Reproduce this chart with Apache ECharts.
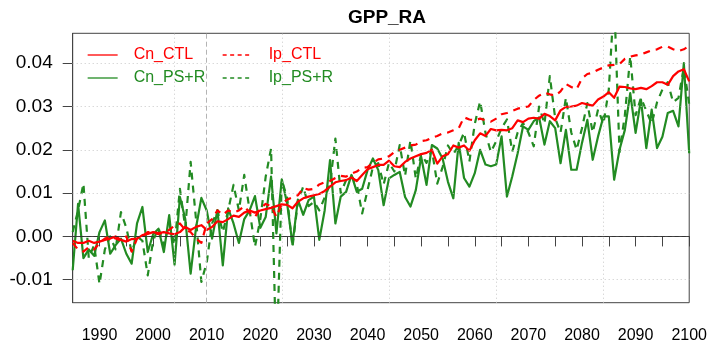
<!DOCTYPE html>
<html>
<head>
<meta charset="utf-8">
<script src="https://cdn.jsdelivr.net/npm/echarts@6/dist/echarts.min.js"></script>
<style>
  html, body { margin: 0; padding: 0; background: #ffffff; }
  #chart { width: 710px; height: 344px; }
</style>
</head>
<body>
<div id="chart"></div>
<script>
// Annual anomalies, 1985-2100
const firstYear = 1985;

const cnCTL = [
  -0.001, -0.0015, -0.0015, -0.001, -0.0015, -0.0012, -0.0008, -0.0005, 0.0, -0.0008,
  -0.0012, -0.0006, -0.0005, 0.0003, 0.0006, 0.001, 0.0008, 0.001, 0.0007, 0.0005,
  0.001, 0.0022, 0.0015, 0.0022, 0.0026, 0.0015, 0.0022, 0.0035, 0.0033, 0.004,
  0.0048, 0.0045, 0.0055, 0.006, 0.0055, 0.006, 0.0063, 0.0066, 0.007, 0.0074,
  0.0073, 0.0065, 0.008, 0.0088, 0.0092, 0.0095, 0.0098, 0.0105, 0.0115, 0.0125,
  0.0128, 0.013, 0.0136, 0.0128, 0.0142, 0.0155, 0.016, 0.0165, 0.0165, 0.0175,
  0.0162, 0.016, 0.0172, 0.018, 0.0185, 0.019, 0.0193, 0.02, 0.0168, 0.0185,
  0.019, 0.021, 0.0205, 0.021, 0.0198, 0.0222, 0.0238, 0.0232, 0.0248, 0.0245,
  0.0246, 0.0245, 0.025, 0.0268, 0.0264, 0.0272, 0.0274, 0.0272, 0.0283, 0.0278,
  0.0268, 0.0291, 0.0299, 0.03, 0.0302, 0.0308, 0.0305, 0.0302, 0.0316, 0.0323,
  0.0333, 0.032, 0.0346, 0.0345, 0.0342, 0.034, 0.0343, 0.034, 0.0347, 0.0356,
  0.0356, 0.035, 0.037, 0.0381, 0.0386, 0.0358
];

const ipCTL = [
  -0.0015, -0.003, -0.0035, -0.0025, -0.003, -0.0015, -0.0005, 0.0, -0.0005, -0.001,
  0.0, -0.0035, -0.0005, 0.0, 0.001, 0.001, 0.0005, 0.001, 0.0015, 0.0025,
  0.003, 0.0015, 0.001, -0.0005, -0.0015, 0.003, 0.004, 0.006, 0.005, 0.006,
  0.0055, 0.006, 0.007, 0.0055, 0.0045, 0.0065, 0.0075, 0.007, 0.0045, 0.0075,
  0.0085, 0.009, 0.0095, 0.0112, 0.0108, 0.011, 0.012, 0.0125, 0.0128, 0.0135,
  0.014, 0.0138, 0.0145, 0.015, 0.0158, 0.016, 0.017, 0.0178, 0.018, 0.0185,
  0.0195, 0.02, 0.0205, 0.021, 0.0212, 0.022, 0.0222, 0.0228, 0.0232, 0.0238,
  0.024, 0.0245, 0.025, 0.0275, 0.027, 0.0268, 0.0272, 0.0268, 0.0265, 0.0272,
  0.0282, 0.0285, 0.029, 0.0295, 0.0298, 0.03, 0.0315, 0.0325, 0.0332, 0.0328,
  0.0325, 0.0335, 0.0352, 0.0345, 0.034, 0.0365, 0.0375, 0.0378, 0.0385, 0.039,
  0.0395, 0.0396, 0.0398, 0.041, 0.0415, 0.0418, 0.042, 0.0425, 0.043, 0.0432,
  0.0438, 0.0438, 0.0432, 0.0428, 0.0432, 0.044
];

const cnPSR = [
  -0.0078, 0.0075, -0.005, -0.003, -0.0045, 0.001, 0.0037, -0.004, -0.002, -0.0005,
  -0.004, -0.0063, 0.003, 0.0068, -0.0036, 0.0005, 0.0018, -0.0036, 0.0049, -0.0065,
  0.0091, 0.004, -0.0086, 0.002, 0.0089, 0.006, -0.0005, 0.0061, -0.0067, 0.0065,
  0.003, -0.0015, 0.004, 0.006, 0.0093, 0.002, 0.0045, 0.0138, 0.0007, 0.0132,
  0.0076, -0.0018, 0.0085, 0.005, 0.0084, 0.0092, -0.0008, 0.006, 0.0176, 0.003,
  0.0092, 0.0103, 0.0142, 0.0103, 0.011, 0.0153, 0.018, 0.0153, 0.0072, 0.0134,
  0.0142, 0.0149, 0.0091, 0.0069, 0.0107, 0.0184, 0.0119, 0.0211, 0.0203, 0.018,
  0.0126, 0.0088, 0.0216, 0.0135, 0.0115, 0.0146, 0.02, 0.0166, 0.0162, 0.0166,
  0.0231, 0.0092, 0.0139, 0.0192, 0.0254, 0.0246, 0.0266, 0.0275, 0.0212, 0.0266,
  0.025, 0.0169, 0.0246, 0.0154, 0.0154, 0.0216, 0.0269, 0.0177, 0.0231, 0.0277,
  0.0277, 0.0131, 0.02, 0.0246, 0.0331, 0.0239, 0.0316, 0.0204, 0.0293, 0.0204,
  0.023, 0.0285, 0.029, 0.0254, 0.04, 0.0192
];

const ipPSR = [
  0.001, 0.006, 0.0122, -0.005, -0.002, -0.011, -0.003, 0.0, -0.003, 0.0056,
  0.002, -0.0036, 0.0, -0.001, -0.009, -0.001, 0.002, -0.002, 0.003, -0.002,
  0.011, 0.002, 0.0172, 0.004, -0.0105, -0.006, 0.003, 0.006, 0.001, 0.006,
  0.0119, 0.006, 0.0142, 0.006, -0.0024, 0.004, 0.0138, 0.0203, -0.03, 0.013,
  0.009, -0.0024, 0.008, 0.0115, 0.007, 0.008, 0.006, 0.009, 0.012, 0.0226,
  0.01, 0.013, 0.014, 0.012, 0.0053, 0.0107, 0.016, 0.0169, 0.012, 0.017,
  0.015, 0.0211, 0.014, 0.0222, 0.0134, 0.019, 0.017, 0.02, 0.0122, 0.016,
  0.021, 0.019, 0.021, 0.024, 0.0173, 0.026, 0.0312, 0.0239, 0.0195, 0.022,
  0.025, 0.027, 0.0196, 0.024, 0.0262, 0.024, 0.0208, 0.03, 0.026, 0.037,
  0.0273, 0.024, 0.032, 0.024, 0.02, 0.025, 0.0308, 0.024, 0.0293, 0.026,
  0.0339, 0.055, 0.0195, 0.028, 0.0416, 0.028, 0.032, 0.029, 0.026, 0.031,
  0.0339, 0.0356, 0.031, 0.032, 0.039, 0.0305
];

// Axis ticks and labels
const xTickYears = [1990, 1995, 2000, 2005, 2010, 2015, 2020, 2025, 2030, 2035, 2040, 2045,
                    2050, 2055, 2060, 2065, 2070, 2075, 2080, 2085, 2090, 2095, 2100];
const xLabelYears = [1990, 2000, 2010, 2020, 2030, 2040, 2050, 2060, 2070, 2080, 2090, 2100];
const yTickValues = [-0.01, 0.0, 0.01, 0.02, 0.03, 0.04];

// Reference lines
const xGridYears = [2004, 2024, 2044, 2064, 2084];
const yGridValues = [-0.01, 0.01, 0.02, 0.03, 0.04];
const baseYear = 2010;

const RED = '#ff0000';
const GREEN = '#228b22';
const FONT = '"Liberation Sans", Arial, Helvetica, sans-serif';

const years = cnCTL.map((_, i) => firstYear + i);
const pairs = arr => years.map((y, i) => [y, arr[i]]);

const chart = echarts.init(document.getElementById('chart'), null, { renderer: 'canvas' });

const dotted = { type: [1, 3], color: '#c8c8c8', width: 1 };

const guideLines = [];
yGridValues.forEach(v => guideLines.push({ yAxis: v, lineStyle: dotted }));
xGridYears.forEach(v => guideLines.push({ xAxis: v, lineStyle: dotted }));
guideLines.push({ xAxis: baseYear, lineStyle: { type: [5, 3], color: '#b4b4b4', width: 1 } });
guideLines.push({ yAxis: 0, lineStyle: { type: [4, 3], color: '#333333', width: 1 } });

const lineSeries = (name, arr, color, dashed, z) => ({
  name,
  type: 'line',
  data: pairs(arr),
  symbol: 'none',
  showSymbol: false,
  clip: true,
  z,
  animation: false,
  lineStyle: { color, width: 2.2, type: dashed ? [7, 6] : 'solid', cap: 'butt', join: 'round' },
  itemStyle: { color }
});

chart.setOption({
  animation: false,
  backgroundColor: '#ffffff',
  title: {
    text: 'GPP_RA',
    left: 382,
    top: 3,
    textAlign: 'center',
    textStyle: { fontSize: 19, fontWeight: 'bold', color: '#000', fontFamily: FONT }
  },
  grid: {
    left: 72.7, right: 18, top: 33.3, bottom: 41.3,
    show: true, borderColor: '#444', borderWidth: 1, backgroundColor: 'transparent',
    containLabel: false
  },
  legend: [
    {
      orient: 'vertical', left: 87, top: 47, padding: 0,
      itemWidth: 30, itemHeight: 14, itemGap: 7, selectedMode: false,
      itemStyle: { opacity: 0 },
      lineStyle: { width: 1.3 },
      textStyle: { fontSize: 16, fontFamily: FONT, padding: [0, 0, 0, 11] },
      data: [
        { name: 'Cn_CTL', textStyle: { color: RED } },
        { name: 'Cn_PS+R', textStyle: { color: GREEN } }
      ]
    },
    {
      orient: 'vertical', left: 222, top: 47, padding: 0,
      itemWidth: 30, itemHeight: 14, itemGap: 7, selectedMode: false,
      itemStyle: { opacity: 0 },
      lineStyle: { width: 1.3, type: [4, 3.5] },
      textStyle: { fontSize: 16, fontFamily: FONT, padding: [0, 0, 0, 11] },
      data: [
        { name: 'Ip_CTL', textStyle: { color: RED } },
        { name: 'Ip_PS+R', textStyle: { color: GREEN } }
      ]
    }
  ],
  xAxis: {
    type: 'value',
    min: 1985, max: 2100, interval: 5,
    axisLine: { show: true, lineStyle: { color: '#444', width: 1 } },
    axisTick: { show: true, length: 10, customValues: xTickYears, lineStyle: { color: '#444' } },
    axisLabel: {
      customValues: xLabelYears, fontSize: 16, color: '#000', fontFamily: FONT, margin: 25,
      formatter: v => String(v)
    },
    splitLine: { show: false }
  },
  yAxis: {
    type: 'value',
    min: -0.0153, max: 0.0469,
    axisLine: { show: true, lineStyle: { color: '#444', width: 1 } },
    axisTick: { show: true, length: 10, customValues: yTickValues, lineStyle: { color: '#444' } },
    axisLabel: {
      customValues: yTickValues, fontSize: 19, color: '#000', fontFamily: FONT, margin: 20,
      formatter: v => v.toFixed(2)
    },
    splitLine: { show: false }
  },
  series: [
    {
      name: 'guides', type: 'line', data: [], z: 1, silent: true,
      markLine: { silent: true, symbol: 'none', label: { show: false }, animation: false, data: guideLines }
    },
    lineSeries('Cn_PS+R', cnPSR, GREEN, false, 2),
    lineSeries('Ip_PS+R', ipPSR, GREEN, true, 3),
    lineSeries('Cn_CTL', cnCTL, RED, false, 4),
    lineSeries('Ip_CTL', ipCTL, RED, true, 5)
  ]
});
</script>
</body>
</html>
